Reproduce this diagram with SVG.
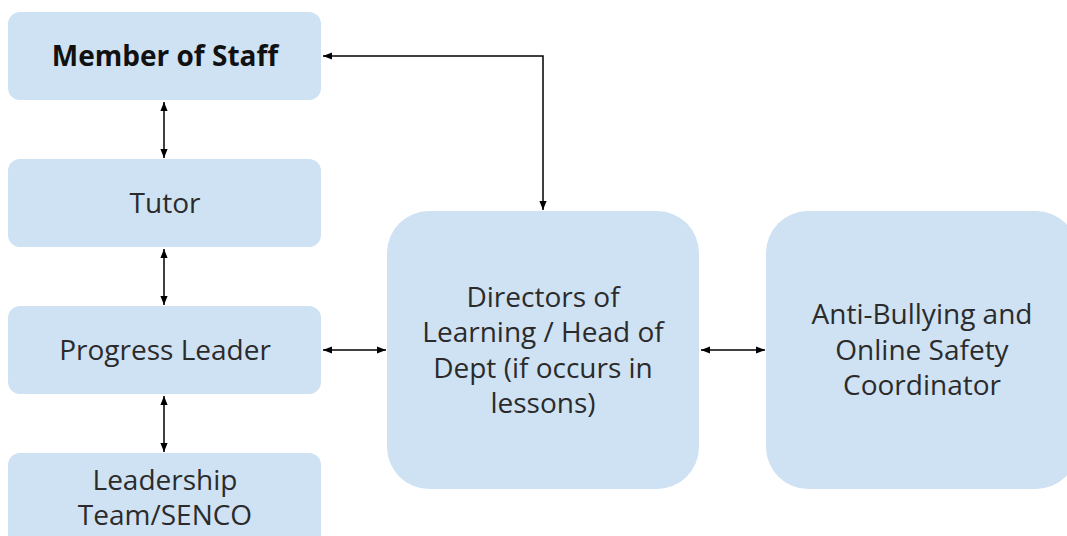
<svg xmlns="http://www.w3.org/2000/svg" width="1067" height="536" viewBox="0 0 1067 536">
<style>
.box{fill:#cfe2f3;}
.t{font-family:"Open Sans","Liberation Sans",sans-serif;font-size:28px;fill:#2b2b2b;text-anchor:middle;dominant-baseline:central;}
.b{font-weight:bold;fill:#111;}
.c{stroke:#000;stroke-width:1.5;fill:none;marker-start:url(#ah);marker-end:url(#ah);}
</style>
<defs>
<marker id="ah" viewBox="0 0 10 10" refX="10" refY="5" markerWidth="6" markerHeight="6" orient="auto-start-reverse" markerUnits="strokeWidth">
<path d="M0,1 L10,5 L0,9 z" fill="#000"/>
</marker>
</defs>
<rect width="1067" height="536" fill="#fff"/>
<g id="member">
<rect class="box" x="8" y="12" width="313" height="88" rx="12"/>
<text class="t b" x="165" y="55">Member of Staff</text>
</g>
<g id="tutor">
<rect class="box" x="8" y="159" width="313" height="88" rx="12"/>
<text class="t" x="165" y="202">Tutor</text>
</g>
<g id="progress">
<rect class="box" x="8" y="306" width="313" height="88" rx="12"/>
<text class="t" x="165" y="349">Progress Leader</text>
</g>
<g id="leadership">
<rect class="box" x="8" y="453" width="313" height="100" rx="12"/>
<text class="t" x="165" y="479">Leadership</text>
<text class="t" x="165" y="514">Team/SENCO</text>
</g>
<g id="directors">
<rect class="box" x="387" y="211" width="312" height="278" rx="42"/>
<text class="t" x="543" y="296">Directors of</text>
<text class="t" x="543" y="331">Learning / Head of</text>
<text class="t" x="543" y="367">Dept (if occurs in</text>
<text class="t" x="543" y="402">lessons)</text>
</g>
<g id="antibullying">
<rect class="box" x="766" y="211" width="312" height="278" rx="42"/>
<text class="t" x="922" y="313">Anti-Bullying and</text>
<text class="t" x="922" y="349">Online Safety</text>
<text class="t" x="922" y="384">Coordinator</text>
</g>
<g id="connectors">
<path class="c" d="M164,102 L164,158"/>
<path class="c" d="M164,249 L164,305"/>
<path class="c" d="M164,396 L164,452"/>
<path class="c" d="M323,350 L386,350"/>
<path class="c" d="M701,350 L765,350"/>
<path class="c" d="M323,56 L543,56 L543,210"/>
</g>
</svg>
